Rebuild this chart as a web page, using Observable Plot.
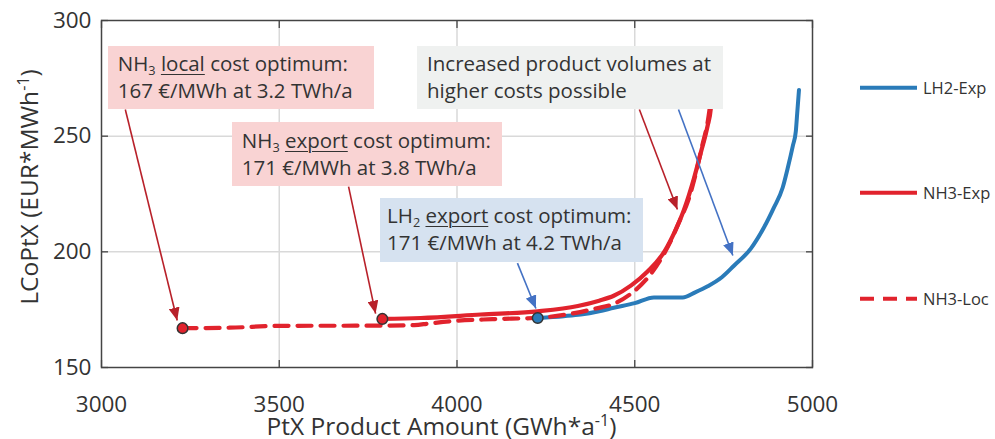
<!DOCTYPE html>
<html>
<head>
<meta charset="utf-8">
<script src="https://cdn.jsdelivr.net/npm/d3@7"></script>
<script src="https://cdn.jsdelivr.net/npm/@observablehq/plot@0.6"></script>
<style>
  html, body { margin: 0; padding: 0; background: #fff; }
  body { font-family: "Open Sans", sans-serif; color: #333; }
  #wrap { position: relative; width: 995px; height: 439px; overflow: hidden; }
  #wrap > svg { position: absolute; left: 0; top: 0; }
  .note {
    position: absolute; box-sizing: border-box;
    font-size: 20.5px; line-height: 27px; color: #333;
    padding: 4.5px 0 0 10px; white-space: nowrap;
  }
  .note sub { font-size: 0.62em; line-height: 0; vertical-align: -0.28em; }
  .note u { text-decoration-thickness: 1.4px; text-underline-offset: 3px; }
  .title { position: absolute; font-size: 24.5px; color: #333; white-space: nowrap; line-height: 1; }
  .title sup { font-size: 0.66em; line-height: 0; vertical-align: 0.55em; }
  .legend-item { position: absolute; display: flex; align-items: center; font-size: 16.5px; line-height: 1; color: #333; white-space: nowrap; }
  #wrap .legend-item svg { display: block; margin-right: 6px; }
</style>
</head>
<body>
<div id="wrap"></div>
<script>
// Axis ticks
const xTicks = [3000, 3500, 4000, 4500, 5000];
const yTicks = [150, 200, 250, 300];

// Levelized cost of PtX (EUR/MWh) against product amount (GWh/a)
const lh2Amount = [4227, 4300, 4348, 4400, 4441, 4500, 4554, 4635, 4670, 4705, 4745, 4779, 4827, 4863, 4891, 4916, 4930, 4945, 4953, 4957, 4962];
const lh2Cost   = [171.4, 172.2, 172.9, 174.3, 175.8, 177.8, 180.3, 180.3, 182.5, 185.1, 189, 194, 201.5, 210.4, 219, 227.7, 236, 246, 252, 260, 270];

const nh3ExpAmount = [3790, 3898, 4067, 4227, 4340, 4400, 4441, 4490, 4536, 4585, 4612, 4638, 4667, 4686, 4705, 4714, 4718];
const nh3ExpCost   = [171, 171.4, 172.9, 174.3, 176.6, 178.9, 181, 185.5, 191.5, 200.5, 208.5, 218, 232, 243, 254.5, 262, 272];

const nh3LocAmount = [3228, 3360, 3500, 3780, 3880, 3920, 3990, 4100, 4230, 4330, 4390, 4441, 4490, 4536, 4570, 4601, 4625, 4650, 4672, 4690, 4705, 4716];
const nh3LocCost   = [167, 167.2, 168, 168.1, 168.3, 169, 170.1, 170.9, 171.5, 173.5, 175.5, 177.5, 182, 188.7, 196, 204.6, 213, 222, 234, 246, 256, 268];

// Cost optima of each pathway
const optimaSeries = ["NH3-Loc", "NH3-Exp", "LH2-Exp"];
const optimaAmount = [3228, 3790, 4227];
const optimaCost   = [167, 171, 171.4];

const seriesNames = ["LH2-Exp", "NH3-Exp", "NH3-Loc"];
const seriesColor = {"LH2-Exp": "#2a7bb9", "NH3-Exp": "#e1232d", "NH3-Loc": "#e1232d"};
const seriesDash  = {"LH2-Exp": null, "NH3-Exp": null, "NH3-Loc": "14,9"};

const toRows = (xs, ys) => xs.map((x, i) => ({amount: x, cost: ys[i]}));
const lh2Rows = toRows(lh2Amount, lh2Cost);
const nh3ExpRows = toRows(nh3ExpAmount, nh3ExpCost);
const nh3LocRows = toRows(nh3LocAmount, nh3LocCost);
const optima = optimaSeries.map((s, i) => ({series: s, amount: optimaAmount[i], cost: optimaCost[i]}));

// Annotation arrows: from a callout box edge to the point of interest
const arrows = [
  {x1: 3067, y1: 261.5, x2: 3213, y2: 170.3, color: "#b8212a"},
  {x1: 3695, y1: 228.2, x2: 3771, y2: 173.3, color: "#b8212a"},
  {x1: 4513, y1: 261.5, x2: 4620, y2: 218.3, color: "#b8212a"},
  {x1: 4623, y1: 261.5, x2: 4776, y2: 198.4, color: "#4472c4"},
  {x1: 4170, y1: 195.1, x2: 4222, y2: 175.5, color: "#4472c4"}
];

// Callout boxes, anchored at their top-left corner in data units
const notes = [
  {html: 'NH<sub>3</sub> <u>local</u> cost optimum:<br>167 €/MWh at 3.2 TWh/a', x: 3019, y: 288.9, w: 266, h: 63.5, bg: "#f9d3d3"},
  {html: 'NH<sub>3</sub> <u>export</u> cost optimum:<br>171 €/MWh at 3.8 TWh/a', x: 3368, y: 255.9, w: 270, h: 63.5, bg: "#f9d3d3"},
  {html: 'Increased product volumes at<br>higher costs possible', x: 3889, y: 288.9, w: 306, h: 63.5, bg: "#eff1f0"},
  {html: 'LH<sub>2</sub> <u>export</u> cost optimum:<br>171 €/MWh at 4.2 TWh/a', x: 3785, y: 223.1, w: 263, h: 64.5, bg: "#d6e2f0", pad: 7}
];

// Filled triangular arrowhead
function arrowHead(color, context) {
  const doc = (context && context.document) || document;
  const ns = "http://www.w3.org/2000/svg";
  const m = doc.createElementNS(ns, "marker");
  m.setAttribute("viewBox", "-13 -5.5 13 11");
  m.setAttribute("markerWidth", 13);
  m.setAttribute("markerHeight", 11);
  m.setAttribute("markerUnits", "userSpaceOnUse");
  m.setAttribute("orient", "auto");
  m.setAttribute("refX", 0);
  m.setAttribute("refY", 0);
  const p = doc.createElementNS(ns, "path");
  p.setAttribute("d", "M0,0L-13,-5.5L-13,5.5Z");
  p.setAttribute("fill", color);
  p.setAttribute("stroke", "none");
  m.appendChild(p);
  return m;
}

const frameColor = "#444";
const blank = () => "";
const plain = d => String(d);

const chart = Plot.plot({
  width: 995,
  height: 439,
  marginLeft: 101,
  marginRight: 183,
  marginTop: 20,
  marginBottom: 72,
  style: {fontFamily: "Open Sans, sans-serif", color: "#333", background: "transparent"},
  x: {domain: [3000, 5000], label: null},
  y: {domain: [150, 300], label: null},
  marks: [
    Plot.gridX(xTicks.slice(1, -1), {stroke: "#d9d9d9", strokeOpacity: 1, strokeWidth: 1.5}),
    Plot.gridY(yTicks.slice(1, -1), {stroke: "#d9d9d9", strokeOpacity: 1, strokeWidth: 1.5}),
    Plot.axisX(xTicks, {anchor: "bottom", tickSize: 0, tickPadding: 29, fontSize: 22.5, tickFormat: plain, label: null}),
    Plot.axisY(yTicks, {anchor: "left", tickSize: 0, tickPadding: 10, fontSize: 22.5, tickFormat: plain, label: null}),
    Plot.axisX(xTicks, {anchor: "bottom", tickSize: -7, tickFormat: blank, label: null, stroke: frameColor, strokeWidth: 1.3}),
    Plot.axisX(xTicks, {anchor: "top", tickSize: -7, tickFormat: blank, label: null, stroke: frameColor, strokeWidth: 1.3}),
    Plot.axisY(yTicks, {anchor: "left", tickSize: -7, tickFormat: blank, label: null, stroke: frameColor, strokeWidth: 1.3}),
    Plot.axisY(yTicks, {anchor: "right", tickSize: -7, tickFormat: blank, label: null, stroke: frameColor, strokeWidth: 1.3}),
    Plot.line(lh2Rows, {x: "amount", y: "cost", stroke: seriesColor["LH2-Exp"], strokeWidth: 4, curve: "monotone-x"}),
    Plot.line(nh3LocRows, {x: "amount", y: "cost", stroke: seriesColor["NH3-Loc"], strokeWidth: 4.2, strokeDasharray: seriesDash["NH3-Loc"], curve: "monotone-x"}),
    Plot.line(nh3ExpRows, {x: "amount", y: "cost", stroke: seriesColor["NH3-Exp"], strokeWidth: 4.2, curve: "monotone-x"}),
    Plot.link(arrows, {x1: "x1", y1: "y1", x2: "x2", y2: "y2", stroke: "color", strokeWidth: 1.6, markerEnd: arrowHead}),
    Plot.dot(optima, {x: "amount", y: "cost", r: 5.3, fill: d => seriesColor[d.series], stroke: "#333", strokeWidth: 1.5}),
    Plot.frame({stroke: frameColor, strokeWidth: 1.5})
  ]
});

const wrap = document.getElementById("wrap");
wrap.appendChild(chart);

const sx = chart.scale("x");
const sy = chart.scale("y");

// Callout boxes
for (const n of notes) {
  const div = document.createElement("div");
  div.className = "note";
  div.innerHTML = n.html;
  div.style.left = sx.apply(n.x) + "px";
  div.style.top = sy.apply(n.y) + "px";
  div.style.width = n.w + "px";
  div.style.height = n.h + "px";
  div.style.background = n.bg;
  if (n.pad != null) div.style.paddingLeft = n.pad + "px";
  wrap.appendChild(div);
}

// Axis titles
const [x0, x1] = sx.range;
const [y0, y1] = sy.range;
const xTitle = document.createElement("div");
xTitle.className = "title";
xTitle.innerHTML = "PtX Product Amount (GWh*a<sup>-1</sup>)";
xTitle.style.left = (x0 + x1) / 2 - 15 + "px";
xTitle.style.top = "426px";
xTitle.style.transform = "translate(-50%, -50%)";
wrap.appendChild(xTitle);

const yTitle = document.createElement("div");
yTitle.className = "title";
yTitle.innerHTML = "LCoPtX (EUR*MWh<sup>-1</sup>)";
yTitle.style.left = "29px";
yTitle.style.top = "187px";
yTitle.style.transform = "translate(-50%, -50%) rotate(-90deg)";
wrap.appendChild(yTitle);

// Legend
const legendTop = [88, 193, 299];
seriesNames.forEach((name, i) => {
  const item = document.createElement("div");
  item.className = "legend-item";
  item.style.left = "860px";
  item.style.top = legendTop[i] + "px";
  item.style.transform = "translateY(-50%)";
  const dash = seriesDash[name] ? `stroke-dasharray="14,9"` : "";
  item.innerHTML = `<svg width="57" height="10"><line x1="0" x2="57" y1="5" y2="5" stroke="${seriesColor[name]}" stroke-width="4" ${dash}/></svg><span>${name}</span>`;
  wrap.appendChild(item);
});
</script>
</body>
</html>
